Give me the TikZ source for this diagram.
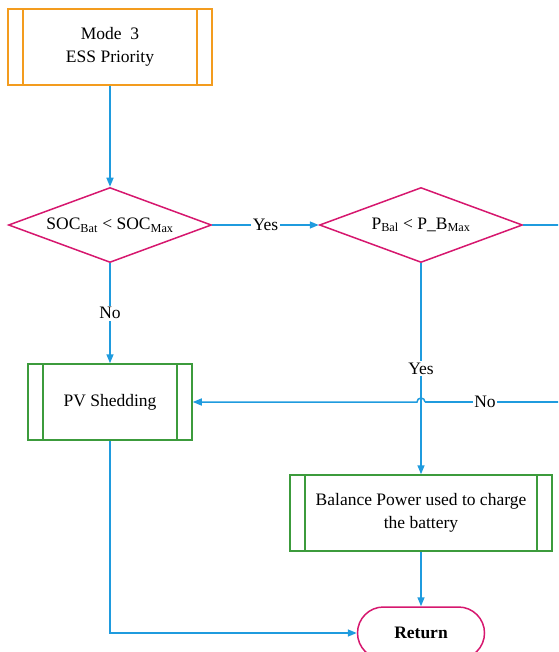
\documentclass[tikz,border=0pt]{standalone}
\usepackage{fontspec}
\setmainfont{Liberation Serif}
\usetikzlibrary{shapes.geometric,arrows.meta}
\definecolor{flowblue}{RGB}{31,155,222}
\definecolor{decmag}{RGB}{214,23,110}
\definecolor{procgreen}{RGB}{60,155,60}
\definecolor{startorange}{RGB}{243,156,30}
\begin{document}
\begin{tikzpicture}[x=1pt,y=-1pt,
  every node/.style={font=\rmfamily\fontsize{17.5}{22.5}\selectfont},
  flow/.style={draw=flowblue,line width=1.5pt},
  arr/.style={flow,-{Triangle[length=9pt,width=7pt]}},
  sidebars/.style={path picture={
      \draw[#1,line width=1.5pt]
        ([xshift=15pt]path picture bounding box.north west) -- ([xshift=15pt]path picture bounding box.south west)
        ([xshift=-15pt]path picture bounding box.north east) -- ([xshift=-15pt]path picture bounding box.south east);}},
  startbox/.style={rectangle,draw=startorange,line width=1.5pt,align=center,sidebars=startorange},
  procbox/.style={rectangle,draw=procgreen,line width=1.5pt,align=center,sidebars=procgreen},
  decision/.style={diamond,aspect=2.7,draw=decmag,line width=1.5pt,minimum width=203pt,minimum height=75pt,inner sep=0pt},
  terminal/.style={rectangle,rounded corners=26pt,draw=decmag,line width=1.5pt,minimum width=127pt,minimum height=52pt},
  lbl/.style={fill=white,inner sep=1.5pt}
]
\useasboundingbox (0,0) rectangle (558,652);
\clip (0,0) rectangle (558,652);

% blocks
\node[startbox,minimum width=204pt,minimum height=76pt] (start) at (110,47) {Mode\ \ 3\\ESS Priority};
\node[decision] (d1) at (110,225) {SOC\textsubscript{Bat} < SOC\textsubscript{Max}};
\node[decision] (d2) at (421,225) {P\textsubscript{Bal} < P\_B\textsubscript{Max}};
\node[procbox,minimum width=164pt,minimum height=76pt] (pv) at (110,402) {PV Shedding};
\node[procbox,minimum width=262pt,minimum height=76pt] (bal) at (421,513) {Balance Power used to charge\\the battery};
\node[terminal] (ret) at (421,633) {\textbf{Return}};

% connectors
\draw[arr] (start) -- (d1);
\draw[arr] (d1.east) -- node[lbl] {Yes} (d2.west);
\draw[arr] (d1.south) -- node[lbl] {No} (pv.north);
\draw[arr] (d2.south) -- node[lbl] {Yes} (bal.north);
\draw[arr] (bal.south) -- (ret.north);
\draw[arr] (pv.south) |- (ret.west);

% "No" branch of the second test, routed round the right edge with a hop
\coordinate (rA) at (575,225);
\coordinate (rB) at (575,402);
\coordinate (hopR) at (425,402);
\draw[flow] (d2.east) -- (rA) -- (rB) -- node[lbl,pos=0.6] {No} (hopR);
\draw[arr] (hopR) arc[start angle=0,end angle=180,radius=4pt] -- (pv.east);
\end{tikzpicture}
\end{document}
